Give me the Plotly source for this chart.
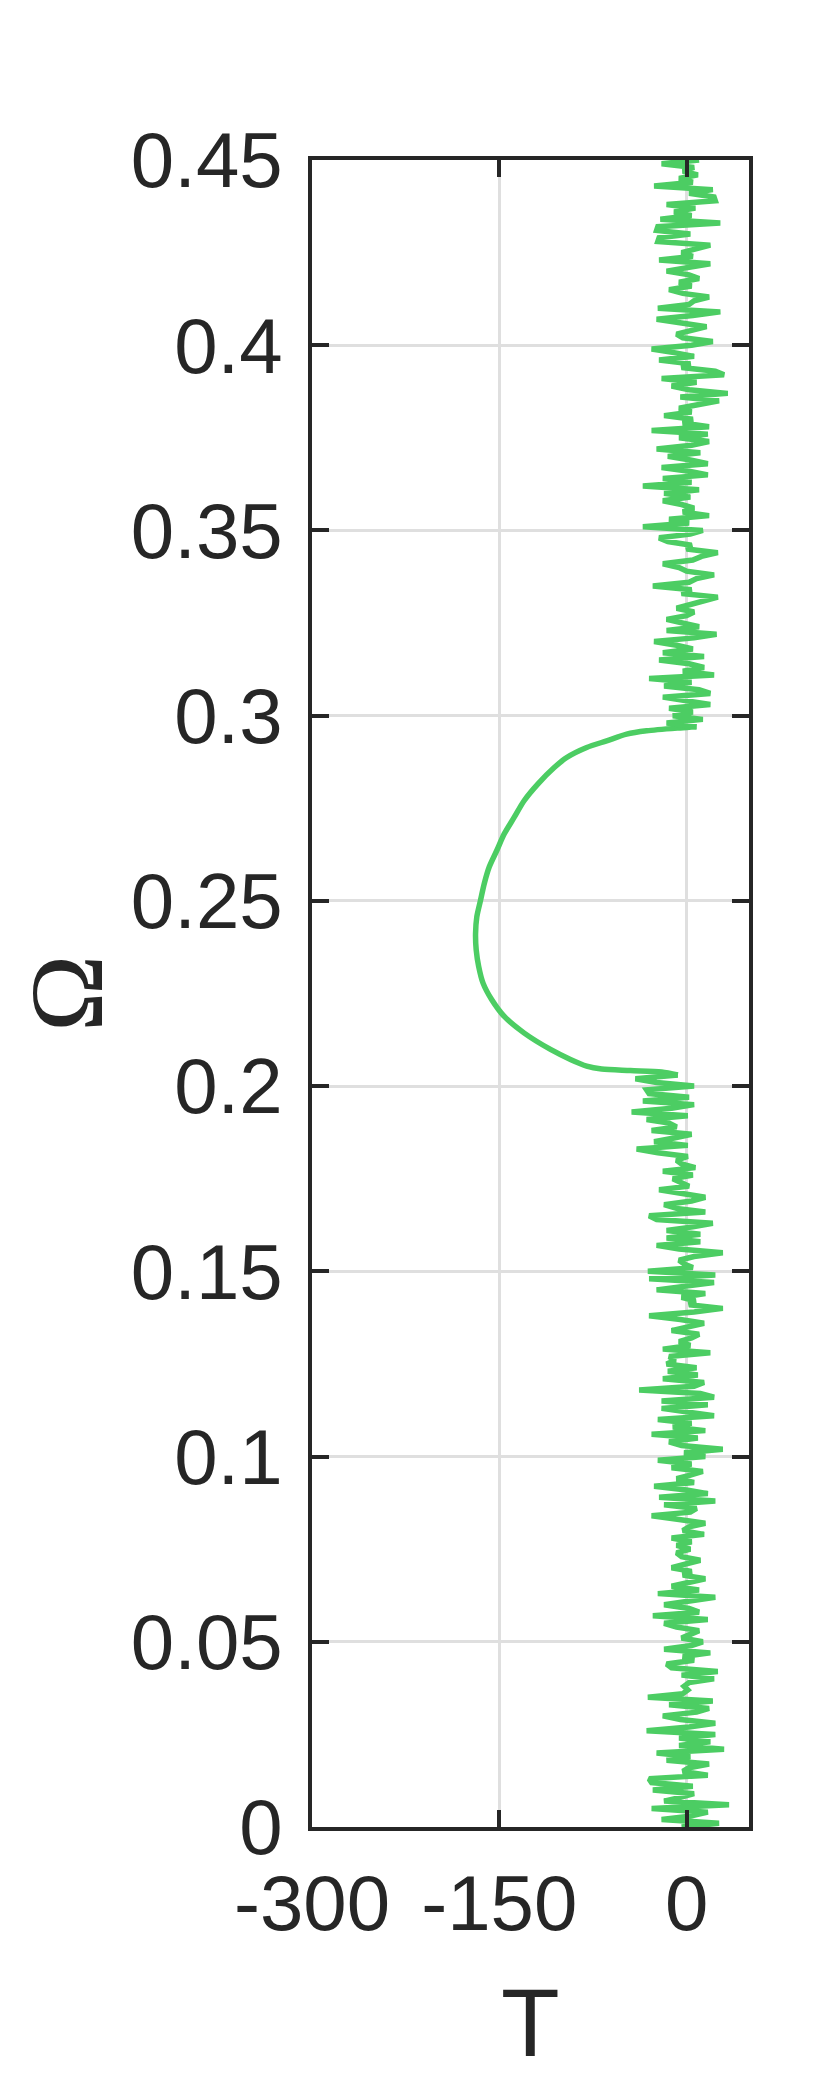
import plotly.graph_objects as go

# torque T against frequency Omega; noisy below 0.2 and above 0.3, smooth loop between
OMEGA_STEP = 0.001

# T at Omega = 0.000, 0.001, ... 0.203
T_LOW = [
    -4, 26, -20, 4, 17, -28, 34, -18, -5, 6,
    -27, 5, -28, -30, 17, -3, 2, 18, -16, 3,
    -24, 30, -6, 19, -6, 23, -32, 2, 23, -5,
    -19, 8, 18, -14, 21, -31, -3, 1, -2, 2,
    22, -4, 25, -12, -16, 6, -3, 19, -18, 4,
    13, -4, 3, 10, -8, -18, 17, -27, 10, 2,
    -18, 5, 23, -23, 10, -12, 0, 15, -3, 4,
    -12, 2, 11, -4, -8, 3, -8, 4, -12, 14,
    -3, 2, 15, -6, -28, 3, 8, -18, 23, -22,
    17, 0, -26, 6, -8, 3, 13, -12, 4, -23,
    15, -2, 29, -4, -14, 9, -28, 15, -11, 4,
    -23, 22, 3, -20, 17, -20, 22, 11, -38, 6,
    14, -19, 9, -15, 8, -16, -9, -14, 19, -19,
    3, -6, 4, 10, -12, 2, 14, -5, -30, 6,
    29, 2, 7, -4, 15, -24, 4, 22, -30, 23,
    -31, 5, -2, -6, 6, 29, -6, -24, 11, -16,
    11, -16, 5, 21, -24, -30, 15, -8, -18, 4,
    15, -5, -22, 2, -4, -11, 5, -19, 7, -4,
    -8, 1, -23, -40, 1, -26, -10, 4, -28, -8,
    -14, -32, 1, -44, -12, 6, -35, 2, -30, -32,
    6, -24, -41, -7,
]

# smooth branch
OMEGA_CURVE = [
    0.2038, 0.2042, 0.2046, 0.2054, 0.2072, 0.2099, 0.2143, 0.2188, 0.2233, 0.2278,
    0.2323, 0.2368, 0.2412, 0.2457, 0.2502, 0.2547, 0.2592, 0.2636, 0.2681, 0.2726,
    0.2771, 0.2816, 0.2860, 0.2887, 0.2914, 0.2932, 0.2950, 0.2959, 0.2967,
]
T_CURVE = [
    -20, -45, -68, -80, -93, -109, -130, -146, -156, -163,
    -166.5, -168.5, -169, -168, -165, -162, -158, -152, -146, -138,
    -130, -119, -106, -96, -80, -64, -48, -32, -5,
]

# T at Omega = 0.297, 0.298, ... 0.450
HIGH_START = 0.297
T_HIGH = [
    8, -16, 13,
    -11, 5, -14, 19, 3, -19, 19, 10, -18, 4,
    -30, 22, -3, 14, 2, -22, 14, -19, 5, -8,
    -26, 6, 24, -16, 10, -2, -16, 0, 6, -8,
    3, 18, 25, -4, 4, -27, 2, 8, 22, 0,
    -6, -19, 5, 12, 25, 0, 4, -15, -22, 3,
    13, -35, 2, -14, 18, -3, 6, -4, -19, 3,
    -18, 10, -35, 4, -19, 17, 2, -20, 17, 3,
    -15, 11, -24, 4, 18, -6, 17, -28, 18, -3,
    5, -18, 4, -6, 10, 26, -5, 33, 2, -12,
    8, -20, 30, 23, -4, 3, -22, 6, -10, -28,
    4, 21, -3, -8, 4, 16, -4, -24, 5, 27,
    -23, 2, 6, 18, -3, -14, 4, -6, 10, 2,
    -16, 4, 19, -22, 5, -4, 9, 19, -23, -22,
    3, -24, -23, 27, -21, 4, -10, 7, -16, 23,
    22, 2, 21, -26, 5, -6, 9, -3, 6, -20,
    10,
]

X_TICKS = [-300, -150, 0]
X_TICK_LABELS = ["-300", "-150", "0"]
Y_TICKS = [0, 0.05, 0.1, 0.15, 0.2, 0.25, 0.3, 0.35, 0.4, 0.45]
Y_TICK_LABELS = ["0", "0.05", "0.1", "0.15", "0.2", "0.25", "0.3", "0.35", "0.4", "0.45"]

LINE_COLOR = "#4ccd63"
INK = "#262626"
GRID = "#dfdfdf"
LINE_WIDTH = 5.5

omega_low = [round(i * OMEGA_STEP, 4) for i in range(len(T_LOW))]
omega_high = [round(HIGH_START + i * OMEGA_STEP, 4) for i in range(len(T_HIGH))]

fig = go.Figure()
fig.add_trace(go.Scatter(x=T_LOW, y=omega_low, mode="lines",
                         line=dict(color=LINE_COLOR, width=LINE_WIDTH), showlegend=False))
# the smooth part joins the last low point to the first high point
fig.add_trace(go.Scatter(x=[T_LOW[-1]] + T_CURVE + [T_HIGH[0]],
                         y=[omega_low[-1]] + OMEGA_CURVE + [omega_high[0]],
                         mode="lines", line=dict(color=LINE_COLOR, width=LINE_WIDTH, shape="spline", smoothing=0.8),
                         showlegend=False))
fig.add_trace(go.Scatter(x=T_HIGH, y=omega_high, mode="lines",
                         line=dict(color=LINE_COLOR, width=LINE_WIDTH), showlegend=False))

axis_style = dict(
    showgrid=True,
    gridcolor=GRID,
    gridwidth=3,
    zeroline=False,
    showline=True,
    linecolor=INK,
    linewidth=3.5,
    mirror="allticks",
    ticks="inside",
    ticklen=17,
    tickwidth=3.5,
    tickcolor=INK,
    tickfont=dict(family="Liberation Sans, Arial, sans-serif", size=78, color=INK),
)

fig.update_xaxes(range=[-300, 50], tickvals=X_TICKS, ticktext=X_TICK_LABELS, ticklabelstandoff=6, **axis_style)
fig.update_yaxes(range=[0, 0.45], tickvals=Y_TICKS, ticktext=Y_TICK_LABELS, ticklabelstandoff=10, **axis_style)

# the page puts the figure 8px in from the corner, so margins are offset by that
fig.update_layout(
    width=830,
    height=2078,
    margin=dict(l=304, r=89, t=152, b=259),
    plot_bgcolor="white",
    paper_bgcolor="white",
    annotations=[
        dict(
            text="Ω", xref="paper", yref="paper", x=-0.562, y=0.5,
            showarrow=False, textangle=-90, xanchor="center", yanchor="middle",
            font=dict(family="Liberation Serif, Times New Roman, serif", size=104, color=INK),
        ),
        dict(
            text="T", xref="paper", yref="paper", x=0.5, y=-0.117,
            showarrow=False, xanchor="center", yanchor="middle",
            font=dict(family="Liberation Sans, Arial, sans-serif", size=96, color=INK),
        ),
    ],
)

fig.write_html("out.html")
